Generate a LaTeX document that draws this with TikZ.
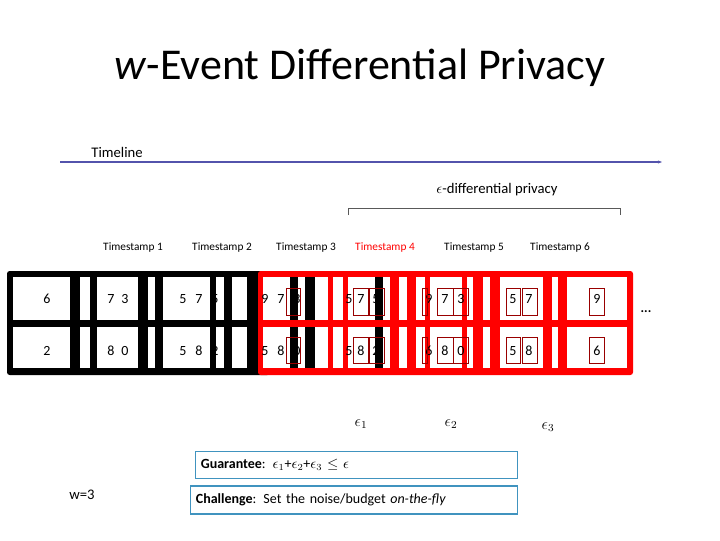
\documentclass[tikz,border=0pt]{standalone}
\usepackage{fontspec}
\setmainfont{Carlito}
\usetikzlibrary{arrows.meta}
\begin{document}
\begin{tikzpicture}[x=0.75pt,y=-0.75pt,
 cell/.style={fill=white,draw=none},
 dig/.style={font=\fontsize{10.5}{12}\selectfont,inner sep=0},
 sb/.style={draw=red!60!black,line width=0.5pt},
 ts/.style={font=\fontsize{8.5}{10}\selectfont},
 note/.style={draw=blue!35!cyan!50!gray,line width=0.8pt,anchor=west,inner sep=4pt,align=left,font=\fontsize{10.5}{12}\selectfont}]
\useasboundingbox (0,0) rectangle (720,540);
\node (title) at (360,68) {\fontsize{33}{38}\selectfont\textit{w}-Event Differential Privacy};
\node (tl) at (117,152) {\fontsize{11}{13}\selectfont Timeline};
\coordinate (t0) at (60,162); \coordinate (t1) at (662,162);
\draw[line width=1pt,draw=blue!35!gray,-{Stealth[length=3pt]}] (t0) -- (t1);
\node (dp) at (497,190) {\fontsize{11}{13}\selectfont $\epsilon$-differential privacy};
\coordinate (b0) at (348,215); \coordinate (b1) at (620,215);
\draw[gray!70!black,line width=0.5pt] (b0) -- (348,208) -- (620,208) -- (b1);
\foreach \x/\n/\c in {133/1/black,222/2/black,306/3/black,385/4/red,474/5/black,560/6/black}
 \node[ts,text=\c] (ts\n) at (\x,248) {Timestamp \n};
% black grid
\fill[black,rounded corners=2pt] (7,271) rectangle (270,375);
\foreach \a/\b in {13/70,80/90,97/138,148/155,163/210,216/224,232/247}{
 \fill[cell] (\a,277) rectangle (\b,320);
 \fill[cell] (\a,327) rectangle (\b,368);}
% red grid
\fill[red,rounded corners=2pt] (258,271) rectangle (633,375);
\foreach \a/\b in {263/290,298/305,315/328,333/343,348/390,399/407,416/425,430/462,467/473,483/490,500/543,552/558,567/627}{
 \fill[cell] (\a,277) rectangle (\b,320);
 \fill[cell] (\a,327) rectangle (\b,368);}
\foreach \a/\b in {290/298,305/315,375/383}{
 \fill[black] (\a,277) rectangle (\b,320);
 \fill[black] (\a,327) rectangle (\b,368);}
% digits
\foreach \x/\d/\e in {47/6/2,111/7/8,125/3/0,183/5/5,199/7/8,215/5/2,265/9/5,281/7/8,297/3/0,349/5/5,361/7/8,376/5/2,429/9/6,445/7/8,461/3/0,513/5/5,529/7/8,597/9/6}{
 \node[dig] at (\x,299) {\d};
 \node[dig] at (\x,351) {\e};}
\foreach \a/\b in {286/300,353/368,369/384,422/427,437/453,453/468,506/520,522/537,589/604}{
 \draw[sb] (\a,288) rectangle (\b,315);
 \draw[sb] (\a,337) rectangle (\b,363);}
\node (dots) at (646,312) {\textbf{...}};
\node (e1) at (361,424) {\fontsize{12}{14}\selectfont $\epsilon_1$};
\node (e2) at (451,424) {\fontsize{12}{14}\selectfont $\epsilon_2$};
\node (e3) at (548,427) {\fontsize{12}{14}\selectfont $\epsilon_3$};
\node[note,text width=311*0.75pt,minimum height=27*0.75pt] (g) at (195,465) {\textbf{Guarantee}: $\epsilon_1$+$\epsilon_2$+$\epsilon_3$ $\le$ $\epsilon$};
\node[note,text width=316*0.75pt,minimum height=28*0.75pt] (ch) at (190,500) {\textbf{Challenge}: Set the noise/budget \textit{on-the-fly}};
\node (w) at (82,495) {\fontsize{11}{13}\selectfont w=3};
\end{tikzpicture}
\end{document}
